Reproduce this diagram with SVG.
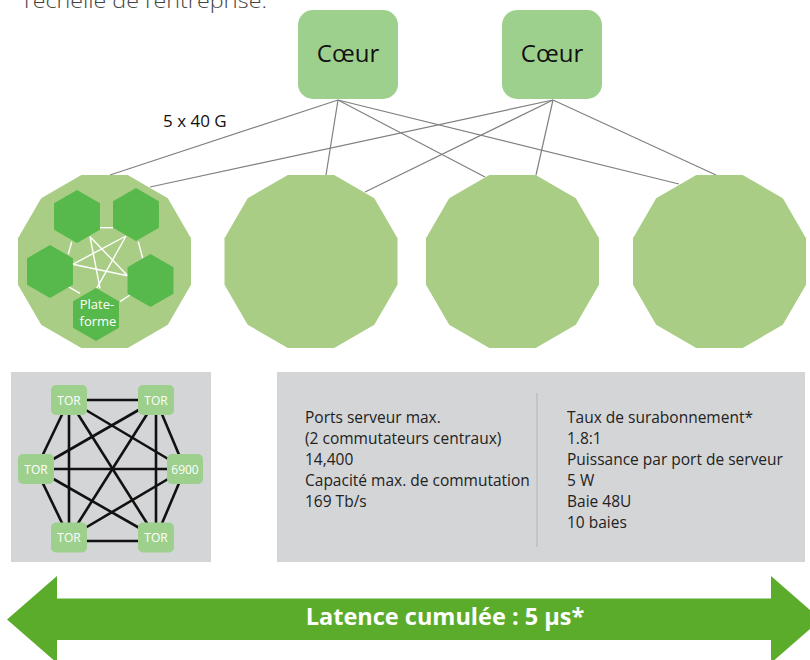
<svg xmlns="http://www.w3.org/2000/svg" xmlns:xlink="http://www.w3.org/1999/xlink" width="810" height="660" viewBox="0 0 810 660">
<defs>
<style>
.txt{font-family:"Open Sans","Liberation Sans",sans-serif;}
.core{fill:#9dd08c;}
.corelbl{font-family:"Open Sans","Liberation Sans",sans-serif;font-size:24px;fill:#111;text-anchor:middle;}
.pod{fill:#a9cd85;}
.hex{fill:#57b84b;}
.conn{stroke:#808080;stroke-width:1.2;fill:none;}
.wl{stroke:#ffffff;stroke-width:1.4;fill:none;}
.bl{stroke:#111;stroke-width:2.6;fill:none;}
.tor{fill:#9dd08c;}
.torlbl{font-family:"Open Sans","Liberation Sans",sans-serif;font-size:12px;fill:#fff;text-anchor:middle;}
.info{font-family:"Open Sans","Liberation Sans",sans-serif;font-size:15.5px;fill:#222;}
.gray{fill:#d4d5d7;}
</style>
<polygon id="dodeca" points="86.5,23.18 63.32,63.32 23.18,86.5 -23.18,86.5 -63.32,63.32 -86.5,23.18 -86.5,-23.18 -63.32,-63.32 -23.18,-86.5 23.18,-86.5 63.32,-63.32 86.5,-23.18"/>
<polygon id="hexa" points="0,-26.5 22.95,-13.25 22.95,13.25 0,26.5 -22.95,13.25 -22.95,-13.25"/>
</defs>
<rect width="810" height="660" fill="#ffffff"/>

<text class="txt" x="24" y="8" font-size="21" fill="#444" font-weight="300" textLength="243" lengthAdjust="spacingAndGlyphs">l’échelle de l’entreprise.</text>

<g id="connectors">
<line class="conn" x1="338" y1="100" x2="110" y2="175"/>
<line class="conn" x1="338" y1="100" x2="326" y2="175"/>
<line class="conn" x1="338" y1="100" x2="485" y2="177"/>
<line class="conn" x1="338" y1="100" x2="679" y2="184"/>
<line class="conn" x1="553" y1="100" x2="150" y2="187"/>
<line class="conn" x1="553" y1="100" x2="365" y2="192"/>
<line class="conn" x1="553" y1="100" x2="536" y2="175"/>
<line class="conn" x1="553" y1="100" x2="716" y2="175"/>
</g>

<g id="core1">
<rect class="core" x="298" y="10" width="100" height="89" rx="15"/>
<text class="corelbl" x="348" y="62">Cœur</text>
</g>
<g id="core2">
<rect class="core" x="502" y="10" width="100" height="89" rx="15"/>
<text class="corelbl" x="552" y="62">Cœur</text>
</g>

<text id="lbl-5x40" class="txt" x="163" y="127" font-size="17" fill="#111">5 x 40 G</text>

<g id="pod1">
<use xlink:href="#dodeca" href="#dodeca" class="pod" transform="translate(104.5,261.5)"/>
<g id="pod1-links">
<line class="wl" x1="100" y1="227.7" x2="113" y2="227.7"/>
<line class="wl" x1="71.7" y1="241.7" x2="68.3" y2="254.3"/>
<line class="wl" x1="138.3" y1="241.7" x2="142.7" y2="258.3"/>
<line class="wl" x1="68.3" y1="286.7" x2="80" y2="293.3"/>
<line class="wl" x1="130" y1="295" x2="120" y2="301.7"/>
<line class="wl" x1="90" y1="236.7" x2="100" y2="288.3"/>
<line class="wl" x1="90" y1="236.7" x2="127.7" y2="275.7"/>
<line class="wl" x1="126" y1="236" x2="72.7" y2="264.3"/>
<line class="wl" x1="126" y1="236" x2="96.7" y2="288.3"/>
<line class="wl" x1="72.7" y1="264.3" x2="127.7" y2="275.7"/>
</g>
<use xlink:href="#hexa" href="#hexa" class="hex" transform="translate(77,216.5)"/>
<use xlink:href="#hexa" href="#hexa" class="hex" transform="translate(136,214.5)"/>
<use xlink:href="#hexa" href="#hexa" class="hex" transform="translate(50,271.5)"/>
<use xlink:href="#hexa" href="#hexa" class="hex" transform="translate(150.5,280.5)"/>
<use xlink:href="#hexa" href="#hexa" class="hex" transform="translate(96,314.5)"/>
<text class="txt" x="97" y="309" font-size="13" fill="#fff" text-anchor="middle">Plate-</text>
<text class="txt" x="98" y="326" font-size="13" fill="#fff" text-anchor="middle">forme</text>
</g>
<g id="pod2"><use xlink:href="#dodeca" href="#dodeca" class="pod" transform="translate(311,261.5)"/></g>
<g id="pod3"><use xlink:href="#dodeca" href="#dodeca" class="pod" transform="translate(512.5,261.5)"/></g>
<g id="pod4"><use xlink:href="#dodeca" href="#dodeca" class="pod" transform="translate(719.5,261.5)"/></g>

<g id="mesh-panel">
<rect class="gray" x="11" y="372" width="200" height="190"/>
<g id="mesh-links">
<line class="bl" x1="69" y1="400" x2="156" y2="400"/>
<line class="bl" x1="69" y1="400" x2="36" y2="469"/>
<line class="bl" x1="69" y1="400" x2="185" y2="469"/>
<line class="bl" x1="69" y1="400" x2="69" y2="537.5"/>
<line class="bl" x1="69" y1="400" x2="156" y2="537.5"/>
<line class="bl" x1="156" y1="400" x2="36" y2="469"/>
<line class="bl" x1="156" y1="400" x2="185" y2="469"/>
<line class="bl" x1="156" y1="400" x2="69" y2="537.5"/>
<line class="bl" x1="156" y1="400" x2="156" y2="537.5"/>
<line class="bl" x1="36" y1="469" x2="185" y2="469"/>
<line class="bl" x1="36" y1="469" x2="69" y2="537.5"/>
<line class="bl" x1="36" y1="469" x2="156" y2="537.5"/>
<line class="bl" x1="185" y1="469" x2="69" y2="537.5"/>
<line class="bl" x1="185" y1="469" x2="156" y2="537.5"/>
<line class="bl" x1="69" y1="541" x2="156" y2="541"/>
</g>
<g id="tor-tl"><rect class="tor" x="51" y="385" width="36" height="30" rx="5"/><text class="torlbl" x="69" y="404.5">TOR</text></g>
<g id="tor-tr"><rect class="tor" x="138" y="385" width="36" height="30" rx="5"/><text class="torlbl" x="156" y="404.5">TOR</text></g>
<g id="tor-l"><rect class="tor" x="18" y="454" width="36" height="30" rx="5"/><text class="torlbl" x="36" y="473.5">TOR</text></g>
<g id="sw-6900"><rect class="tor" x="167" y="454" width="36" height="30" rx="5"/><text class="torlbl" x="185" y="473.5">6900</text></g>
<g id="tor-bl"><rect class="tor" x="51" y="522.5" width="36" height="30" rx="5"/><text class="torlbl" x="69" y="542">TOR</text></g>
<g id="tor-br"><rect class="tor" x="138" y="522.5" width="36" height="30" rx="5"/><text class="torlbl" x="156" y="542">TOR</text></g>
</g>

<g id="info-panel">
<rect class="gray" x="277" y="372" width="528" height="190"/>
<line x1="537" y1="393" x2="537" y2="547" stroke="#b3b3b3" stroke-width="1"/>
<text class="info" x="305" y="423">Ports serveur max.</text>
<text class="info" x="305" y="444">(2 commutateurs centraux)</text>
<text class="info" x="305" y="465">14,400</text>
<text class="info" x="305" y="485.5">Capacité max. de commutation</text>
<text class="info" x="305" y="506.5">169 Tb/s</text>
<text class="info" x="567" y="423">Taux de surabonnement*</text>
<text class="info" x="567" y="444">1.8:1</text>
<text class="info" x="567" y="465">Puissance par port de serveur</text>
<text class="info" x="567" y="485.5">5 W</text>
<text class="info" x="567" y="506.5">Baie 48U</text>
<text class="info" x="567" y="527.5">10 baies</text>
</g>

<g id="latency-arrow">
<polygon points="7,619.5 57,576 57,598.5 771,598.5 771,576 821,619.5 771,663 771,640 57,640 57,663" fill="#5cac2c"/>
<text class="txt" x="445" y="625" font-size="23.5" font-weight="bold" fill="#fff" text-anchor="middle">Latence cumulée : 5 µs*</text>
</g>
</svg>
